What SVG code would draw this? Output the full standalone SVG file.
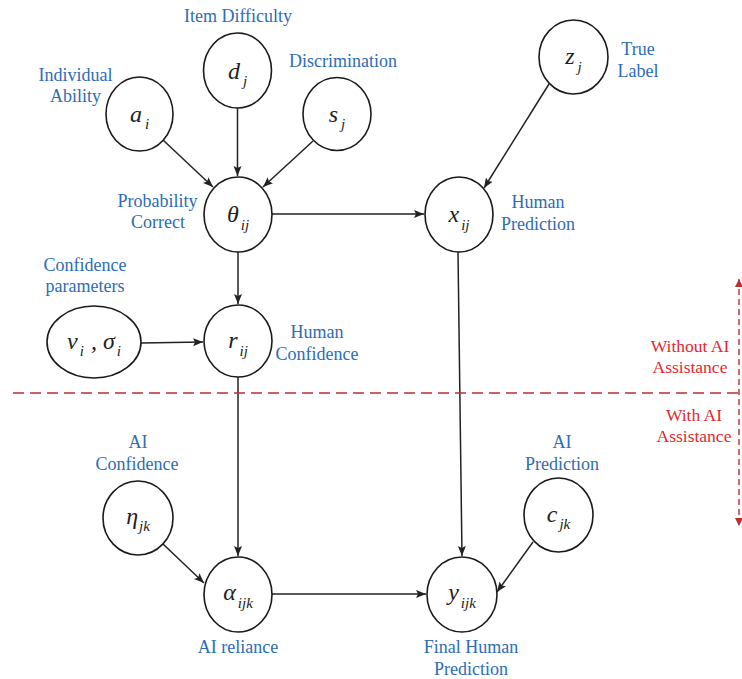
<svg xmlns="http://www.w3.org/2000/svg" width="742" height="679" viewBox="0 0 742 679" font-family="'Liberation Serif', 'Times New Roman', Times, serif">
<defs>
<marker id="ah" markerWidth="11" markerHeight="9" refX="10" refY="4" orient="auto" markerUnits="userSpaceOnUse"><path d="M0,0 L10,4 L0,8 L2,4 z" fill="#222"/></marker>
<marker id="rh" markerWidth="9" markerHeight="10" refX="8" refY="4" orient="auto-start-reverse" markerUnits="userSpaceOnUse"><path d="M0,0 L8,4 L0,8 z" fill="#b7312f"/></marker>
</defs>
<style>
.n{fill:#fff;stroke:#1a1a1a;stroke-width:1.6}
.e{stroke:#222;stroke-width:1.5;fill:none;marker-end:url(#ah)}
.lb{font-size:18px;fill:#2d6db5;text-anchor:middle}
.rd{font-size:17.5px;fill:#e5272e;text-anchor:middle}
.m{font-style:italic;font-size:24px;fill:#222;text-anchor:middle}
.s{font-size:15px}
</style>
<rect width="742" height="679" fill="#fff"/>
<g id="connectors">
<line class="e" x1="163" y1="140" x2="213" y2="187"/>
<line class="e" x1="237.5" y1="108" x2="237.5" y2="176"/>
<line class="e" x1="313" y1="141" x2="263" y2="187"/>
<line class="e" x1="272" y1="214" x2="424" y2="214"/>
<line class="e" x1="549" y1="84" x2="484" y2="188"/>
<line class="e" x1="238" y1="252" x2="238" y2="304"/>
<line class="e" x1="141" y1="343" x2="203" y2="342"/>
<line class="e" x1="238" y1="377" x2="238" y2="556"/>
<line class="e" x1="458" y1="252" x2="462" y2="556"/>
<line class="e" x1="163" y1="544" x2="204" y2="583"/>
<line class="e" x1="272" y1="594" x2="426" y2="594"/>
<line class="e" x1="533" y1="542" x2="497" y2="592"/>
</g>
<g id="divider">
<line x1="13" y1="393" x2="742" y2="393" stroke="#b7312f" stroke-width="1.4" stroke-dasharray="11,6"/>
<line x1="739" y1="279" x2="739" y2="526" stroke="#b7312f" stroke-width="1.4" stroke-dasharray="6,4" marker-start="url(#rh)" marker-end="url(#rh)"/>
<text class="rd" x="690" y="352">Without AI</text>
<text class="rd" x="690" y="373">Assistance</text>
<text class="rd" x="694" y="421">With AI</text>
<text class="rd" x="694" y="442">Assistance</text>
</g>
<g id="node-a">
<ellipse class="n" cx="139.5" cy="114" rx="33.5" ry="37"/>
<text class="m" x="139.5" y="122">a<tspan class="s" dx="3" dy="7">i</tspan></text>
<text class="lb" x="75.5" y="81">Individual</text>
<text class="lb" x="75.5" y="102">Ability</text>
</g>
<g id="node-d">
<ellipse class="n" cx="237.5" cy="70.5" rx="34" ry="37.5"/>
<text class="m" x="237.5" y="79">d<tspan class="s" dx="3" dy="7">j</tspan></text>
<text class="lb" x="238" y="22">Item Difficulty</text>
</g>
<g id="node-s">
<ellipse class="n" cx="337" cy="114" rx="34" ry="36.5"/>
<text class="m" x="337" y="122">s<tspan class="s" dx="3" dy="7">j</tspan></text>
<text class="lb" x="343" y="67">Discrimination</text>
</g>
<g id="node-theta">
<ellipse class="n" cx="238" cy="214.5" rx="34" ry="37.5"/>
<text class="m" x="238" y="222">θ<tspan class="s" dx="2" dy="8">ij</tspan></text>
<text class="lb" x="157.5" y="207">Probability</text>
<text class="lb" x="158" y="228">Correct</text>
</g>
<g id="node-z">
<ellipse class="n" cx="573.5" cy="57" rx="34.5" ry="37"/>
<text class="m" x="573.5" y="64">z<tspan class="s" dx="3" dy="8">j</tspan></text>
<text class="lb" x="638" y="55">True</text>
<text class="lb" x="638" y="77">Label</text>
</g>
<g id="node-x">
<ellipse class="n" cx="459" cy="214.5" rx="34" ry="37.5"/>
<text class="m" x="459" y="222">x<tspan class="s" dx="2" dy="8">ij</tspan></text>
<text class="lb" x="538" y="208">Human</text>
<text class="lb" x="538" y="230">Prediction</text>
</g>
<g id="node-v">
<ellipse class="n" cx="94" cy="342" rx="47" ry="36"/>
<text class="m" x="94" y="349">v<tspan class="s" dx="2" dy="7">i</tspan><tspan dx="1" dy="-7"> , σ</tspan><tspan class="s" dx="2" dy="7">i</tspan></text>
<text class="lb" x="85" y="271">Confidence</text>
<text class="lb" x="85" y="292">parameters</text>
</g>
<g id="node-r">
<ellipse class="n" cx="238" cy="341" rx="34" ry="36"/>
<text class="m" x="238" y="348">r<tspan class="s" dx="2" dy="8">ij</tspan></text>
<text class="lb" x="317" y="338">Human</text>
<text class="lb" x="317" y="360">Confidence</text>
</g>
<g id="node-eta">
<ellipse class="n" cx="138" cy="518" rx="35" ry="37"/>
<text class="m" x="138" y="524">η<tspan class="s" dx="1" dy="7">jk</tspan></text>
<text class="lb" x="138" y="448">AI</text>
<text class="lb" x="137" y="470">Confidence</text>
</g>
<g id="node-alpha">
<ellipse class="n" cx="238" cy="594.5" rx="34" ry="37.5"/>
<text class="m" x="238" y="600">α<tspan class="s" dx="2" dy="8">ijk</tspan></text>
<text class="lb" x="238" y="653">AI reliance</text>
</g>
<g id="node-c">
<ellipse class="n" cx="558.5" cy="515" rx="34.5" ry="37"/>
<text class="m" x="558.5" y="522">c<tspan class="s" dx="2" dy="7">jk</tspan></text>
<text class="lb" x="562" y="448">AI</text>
<text class="lb" x="562" y="470">Prediction</text>
</g>
<g id="node-y">
<ellipse class="n" cx="462" cy="594.5" rx="35" ry="37.5"/>
<text class="m" x="462" y="600">y<tspan class="s" dx="2" dy="8">ijk</tspan></text>
<text class="lb" x="471" y="653">Final Human</text>
<text class="lb" x="471" y="675">Prediction</text>
</g>
</svg>
